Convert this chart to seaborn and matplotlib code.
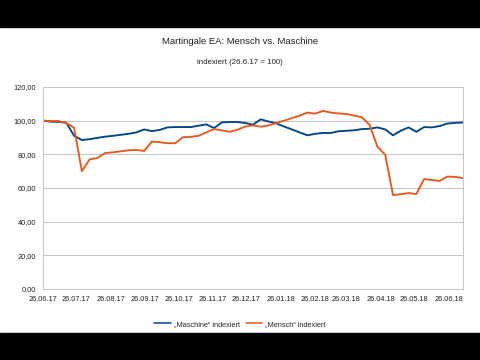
import matplotlib
matplotlib.use("Agg")
import matplotlib.pyplot as plt
import matplotlib.dates as mdates
from matplotlib.patches import Rectangle
from matplotlib.lines import Line2D
from matplotlib.ticker import FuncFormatter, MultipleLocator
import seaborn as sns
import pandas as pd

# ---- data ----
title = "Martingale EA: Mensch vs. Maschine"
subtitle = "indexiert (26.6.17 = 100)"
series_names = ["„Maschine“ indexiert", "„Mensch“ indexiert"]
dates = pd.date_range("2017-06-26", periods=55, freq="7D")
maschine = [100, 99.4, 99.3, 98.8, 91.0, 88.5, 89.0, 89.8, 90.5, 91.0,
            91.6, 92.2, 93.0, 94.8, 93.8, 94.5, 96.0, 96.2, 96.2, 96.2,
            97.0, 97.8, 95.6, 99.0, 99.2, 99.2, 98.6, 97.6, 100.8, 99.5,
            98.4, 96.5, 94.8, 93.0, 91.3, 92.2, 92.7, 92.7, 93.7, 94.0,
            94.3, 95.0, 95.2, 96.0, 94.8, 91.3, 94.0, 96.0, 93.4, 96.2,
            96.0, 96.8, 98.3, 98.7, 98.9]
mensch = [100, 99.8, 99.8, 98.6, 95.8, 70.0, 77.0, 77.8, 80.8, 81.2,
          81.8, 82.4, 82.6, 82.0, 87.6, 87.2, 86.6, 86.6, 90.2, 90.4,
          91.0, 93.0, 95.0, 94.2, 93.4, 94.6, 96.5, 97.2, 96.4, 97.2,
          98.6, 100.0, 101.5, 103.0, 104.8, 104.2, 105.8, 104.8, 104.3, 104.0,
          103.0, 102.0, 97.5, 84.5, 79.8, 55.8, 56.3, 57.0, 56.4, 65.3,
          64.8, 64.2, 66.8, 66.6, 65.9]
tick_dates = ["2017-06-26", "2017-07-26", "2017-08-26", "2017-09-26", "2017-10-26",
              "2017-11-26", "2017-12-26", "2018-01-26", "2018-02-26", "2018-03-26",
              "2018-04-26", "2018-05-26", "2018-06-26"]
colors = ["#004586", "#e8581f"]

df = pd.concat([
    pd.DataFrame({"Datum": dates, "Wert": maschine, "Serie": series_names[0]}),
    pd.DataFrame({"Datum": dates, "Wert": mensch, "Serie": series_names[1]}),
])

sns.set_style("white")
plt.rcParams["font.family"] = ["Liberation Sans", "DejaVu Sans"]

fig = plt.figure(figsize=(4.8, 3.6), dpi=100)
ax = fig.add_axes([43/480, 1-289/360, 420/480, 202/360])

sns.lineplot(data=df, x="Datum", y="Wert", hue="Serie", palette=colors,
             linewidth=1.35, ax=ax, legend=False)

ax.set_ylim(0, 120)
ax.yaxis.set_major_locator(MultipleLocator(20))
ax.yaxis.set_major_formatter(FuncFormatter(lambda v, p: f"{v:.2f}".replace(".", ",")))
ax.set_xlim(dates[0], dates[-1])
ax.set_xticks(pd.to_datetime(tick_dates))
ax.xaxis.set_major_formatter(mdates.DateFormatter("%d.%m.%y"))
ax.grid(axis="y", color="#c6c6c6", linewidth=0.75)
ax.set_axisbelow(True)
for s in ax.spines.values():
    s.set_color("#c6c6c6")
    s.set_linewidth(0.75)
ax.tick_params(axis="both", direction="out", length=3, width=0.75, color="#b3b3b3",
               labelsize=5.3, labelcolor="#222222", pad=2)
ax.set_xlabel("")
ax.set_ylabel("")

fig.text(0.5, 1-42/360, title, ha="center", va="center", fontsize=6.8, color="#222222")
fig.text(0.5, 1-62/360, subtitle, ha="center", va="center", fontsize=5.7, color="#222222")

handles = [Line2D([0], [0], color=c, linewidth=1.1) for c in colors]
fig.legend(handles, series_names, loc="center", bbox_to_anchor=(0.5, 1-324/360),
           ncol=2, frameon=False, fontsize=5.3, handlelength=2.2, handletextpad=0.4,
           columnspacing=0.9)

fig.add_artist(Rectangle((0, 1-27/360), 1, 27/360, transform=fig.transFigure,
                         color="black", zorder=10))
fig.add_artist(Rectangle((0, 0), 1, 27/360, transform=fig.transFigure,
                         color="black", zorder=10))

fig.savefig("out.png", dpi=100, facecolor="white")
